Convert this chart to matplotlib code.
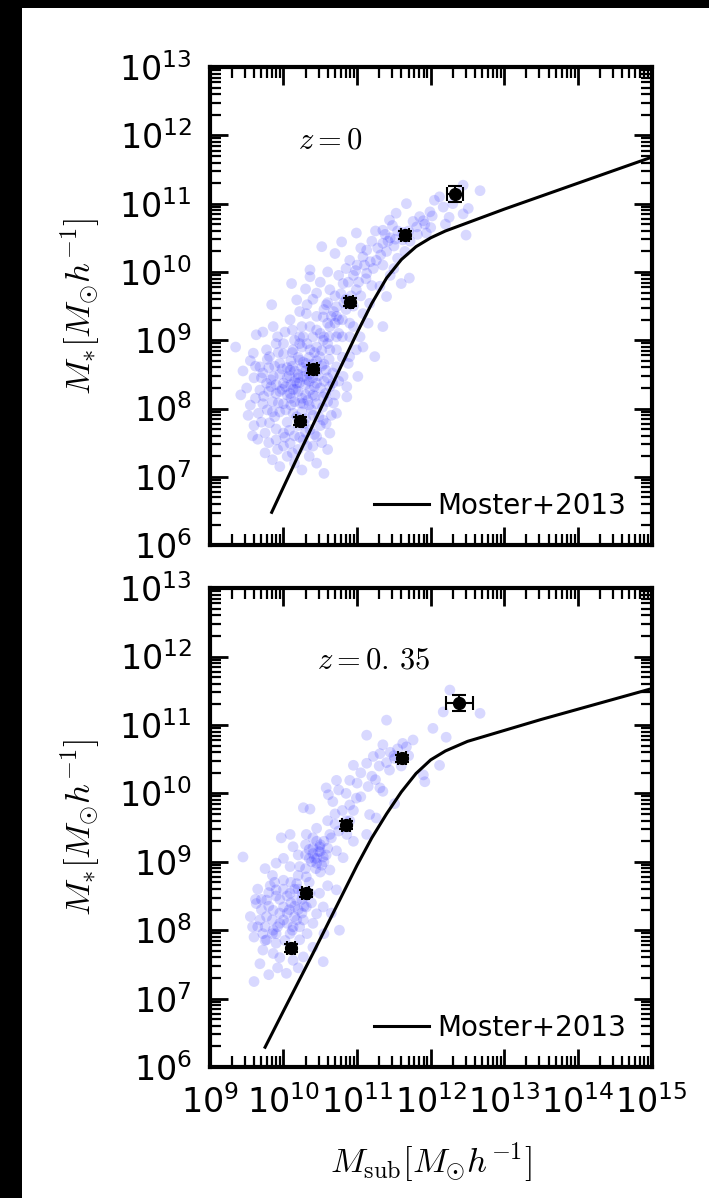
import matplotlib
matplotlib.use('Agg')
import matplotlib.pyplot as plt
from matplotlib.patches import Rectangle
from matplotlib.ticker import LogLocator, NullFormatter
import numpy as np

plt.rcParams['mathtext.fontset'] = 'cm'
plt.rcParams['font.family'] = ['DejaVu Sans']

# all masses as log10 values
# z = 0 panel
top_cloud = [
    (12.44, 11.27), (12.67, 11.19), (12.12, 11.10), (12.05, 11.05), (12.51, 10.93), (12.44, 10.85),
    (12.17, 10.95), (11.99, 10.88), (11.85, 10.81), (11.67, 11.00), (11.76, 10.74), (11.53, 10.86),
    (11.44, 10.76), (11.35, 10.61), (11.81, 10.66), (11.94, 10.57), (11.62, 10.47), (12.48, 10.54),
    (11.35, 10.42), (11.71, 9.91), (11.60, 9.83), (10.99, 10.57), (10.70, 10.27), (10.52, 10.37),
    (10.79, 10.44), (10.90, 10.17), (11.13, 10.32), (11.26, 10.17), (11.35, 10.10), (11.13, 9.98),
    (11.31, 9.79), (11.40, 9.64), (11.35, 9.20), (11.24, 8.76), (11.01, 8.47), (10.86, 8.32),
    (10.88, 8.66), (10.72, 8.86), (10.36, 9.93), (10.36, 10.03), (10.11, 9.83), (10.18, 9.59),
    (10.45, 9.69), (10.63, 9.74), (10.81, 9.83), (10.99, 9.74), (10.72, 9.49), (10.54, 9.34),
    (10.31, 9.39), (9.84, 9.52), (10.09, 9.30), (9.86, 9.20), (9.63, 9.08), (9.72, 9.12),
    (9.35, 8.90), (9.59, 8.81), (9.81, 8.76), (10.00, 8.95), (10.22, 9.05), (10.45, 9.15),
    (10.63, 9.20), (10.90, 9.25), (11.08, 9.39), (11.17, 9.54), (11.04, 9.05),
    (11.45, 10.50), (11.55, 10.60), (11.50, 10.38), (11.40, 10.30), (11.20, 10.45), (11.25, 10.60),
    (11.05, 10.35), (11.00, 10.10), (10.95, 9.95), (10.85, 10.05), (10.75, 9.95), (10.70, 9.65),
    (10.85, 9.60), (10.95, 9.50), (11.05, 9.65), (11.20, 9.80), (11.10, 10.10), (10.80, 9.30),
    (10.60, 9.55), (10.50, 9.85), (10.60, 10.00), (10.40, 9.60), (10.30, 9.75), (10.25, 9.20),
    (10.55, 9.05), (10.75, 9.10), (11.15, 9.25), (11.55, 10.20), (11.65, 10.30), (11.70, 10.60),
    (11.90, 10.75), (12.00, 10.65), (12.25, 10.80), (12.30, 11.00), (12.20, 10.70), (11.45, 9.95),
    (11.50, 10.05),
    (9.68, 8.61), (9.77, 8.37), (9.68, 8.27), (9.72, 8.07), (9.66, 7.93), (9.81, 7.79), (9.75, 7.64),
    (9.90, 7.54), (10.00, 7.64), (10.09, 7.49), (10.27, 7.54), (10.36, 7.69), (10.45, 7.59),
    (10.54, 7.83), (10.63, 7.64), (10.72, 7.93), (10.86, 8.17), (10.67, 8.37), (10.58, 8.56),
    (10.49, 8.76), (10.36, 8.86), (10.22, 8.71), (10.09, 8.56), (10.00, 8.37), (10.09, 8.22),
    (10.18, 8.37), (10.27, 8.47), (10.36, 8.27), (10.45, 8.37), (10.54, 8.17), (10.45, 8.07),
    (10.27, 8.07), (10.13, 7.93), (10.00, 8.07), (9.90, 8.22), (9.86, 8.47), (9.95, 8.66),
    (10.13, 8.86), (10.27, 9.05), (10.31, 8.66), (10.63, 8.86), (10.72, 8.61), (10.81, 8.47),
    (10.90, 8.76), (10.99, 8.86), (11.08, 8.90), (10.72, 9.05), (10.54, 9.00), (10.36, 9.20),
    (9.90, 8.95), (9.77, 8.86),
    (9.75, 7.35), (9.85, 7.25), (9.95, 7.15), (10.05, 7.30), (10.15, 7.20), (10.25, 7.10),
    (10.35, 7.30), (10.45, 7.20), (10.60, 7.40), (9.65, 7.55), (9.60, 7.75), (9.55, 8.05),
    (9.50, 8.30), (9.45, 8.55), (9.60, 8.45), (10.55, 7.05),
    (10.05, 8.45), (10.15, 8.55), (10.25, 8.60), (10.35, 8.50), (10.20, 8.25), (10.30, 8.35),
    (10.40, 8.45), (10.10, 8.35), (10.20, 8.45), (10.30, 8.20), (10.15, 8.10), (10.05, 8.20),
    (10.25, 7.95), (10.35, 8.05), (10.40, 8.65), (10.20, 8.75), (10.10, 8.70), (9.95, 8.50),
    (9.90, 8.35), (9.85, 8.10), (9.95, 7.95), (10.05, 7.80), (10.20, 7.75), (10.30, 7.85),
    (10.40, 7.90), (10.50, 8.30), (10.45, 8.55), (10.55, 8.65), (10.35, 8.75), (10.25, 8.90),
    (10.15, 9.00), (10.45, 8.90), (10.60, 8.45), (10.00, 8.80), (9.80, 8.60), (9.80, 8.25),
    (9.70, 8.45), (9.85, 7.95), (10.00, 7.45), (10.15, 7.60), (10.30, 7.65), (10.20, 7.40),
    (10.40, 7.45), (9.90, 7.70), (10.50, 7.75), (10.10, 8.05), (10.25, 8.15), (10.35, 8.40),
    (10.15, 8.40), (10.05, 8.60), (10.30, 8.55), (10.20, 8.50), (10.10, 8.15), (10.40, 8.20),
    (9.95, 8.25), (10.45, 8.70), (10.55, 8.40), (10.60, 8.10), (10.70, 8.20), (10.65, 7.90),
    (10.75, 8.40), (10.80, 8.75), (10.60, 8.95), (10.50, 9.10), (10.40, 9.05),
    (10.65, 9.35), (10.75, 9.30), (10.85, 9.45), (10.55, 9.45), (10.70, 9.25), (10.80, 9.05),
    (10.90, 9.05), (10.95, 9.20), (10.60, 9.25), (10.45, 9.35),
    (9.72, 8.52), (9.78, 8.72), (9.83, 8.42), (9.88, 8.62), (9.93, 8.82), (9.98, 8.58),
    (10.03, 8.32), (10.08, 8.48), (10.12, 8.62), (10.17, 8.28), (10.22, 8.38), (10.27, 8.68),
    (10.32, 8.42), (10.37, 8.58), (10.42, 8.32), (10.47, 8.48), (10.52, 8.62), (10.57, 8.22),
    (10.62, 8.72), (10.67, 8.52), (9.73, 8.18), (9.78, 7.98), (9.83, 8.32), (9.88, 7.88),
    (9.93, 8.08), (9.98, 8.28), (10.03, 7.98), (10.08, 7.68), (10.13, 8.28), (10.18, 7.88),
    (10.23, 8.08), (10.28, 7.78), (10.33, 8.12), (10.38, 7.98), (10.43, 8.18), (10.48, 7.88),
    (10.53, 8.02), (10.58, 7.78), (10.63, 8.32), (10.68, 8.08), (9.80, 7.50), (9.92, 7.40),
    (10.02, 7.58), (10.12, 7.35), (10.22, 7.58), (10.32, 7.45), (10.42, 7.62), (10.52, 7.50),
    (9.70, 7.80), (9.62, 8.15), (10.12, 8.82), (10.22, 8.95), (10.32, 8.95), (10.42, 8.82),
    (10.52, 8.85), (10.62, 9.05), (10.72, 9.35), (10.82, 9.55), (10.92, 9.65), (11.02, 9.85),
    (11.12, 9.90), (11.22, 10.05), (11.32, 10.25), (11.42, 10.45), (11.52, 10.48), (11.62, 10.58),
    (11.72, 10.45), (11.82, 10.55), (11.92, 10.70), (12.02, 10.82), (10.58, 9.52), (10.68, 9.42),
    (10.78, 9.68), (10.88, 9.85), (10.98, 10.02), (11.08, 10.22), (11.18, 10.15), (11.28, 10.35),
    (11.38, 10.55), (11.48, 10.68), (10.02, 9.12), (10.12, 9.15), (10.32, 9.52), (10.22, 9.42),
    (9.92, 9.05), (9.62, 8.62), (9.55, 8.70), (9.42, 8.20), (9.52, 7.90), (9.58, 7.60),
]
top_logmsub = [10.22, 10.40, 10.90, 11.65, 12.33]
top_logmstar = [7.82, 8.58, 9.56, 10.54, 11.14]
top_xerr = [0.05, 0.05, 0.05, 0.05, 0.11]
top_yerr = [0.055, 0.055, 0.055, 0.055, 0.12]
top_moster_x = [9.84, 10.0, 10.2, 10.4, 10.6, 10.8, 11.0, 11.2, 11.4, 11.6,
                11.8, 12.0, 12.2, 12.5, 13.0, 13.5, 14.0, 14.5, 15.0]
top_moster_y = [6.48, 6.85, 7.31, 7.76, 8.21, 8.66, 9.11, 9.54, 9.91, 10.18,
                10.37, 10.50, 10.60, 10.72, 10.92, 11.11, 11.30, 11.49, 11.68]

# z = 0.35 panel
bot_cloud = [
    (12.26, 11.51), (12.67, 11.17), (12.17, 11.19), (12.03, 10.95), (12.21, 10.82), (12.12, 10.41),
    (11.92, 10.17), (11.90, 10.27), (11.40, 11.07), (11.13, 10.85), (11.76, 10.78), (11.67, 10.68),
    (11.62, 10.73), (11.35, 10.71), (11.31, 10.58), (11.51, 10.51), (11.22, 10.54), (11.44, 10.34),
    (11.35, 10.03), (11.51, 9.85),
    (11.13, 10.44), (10.95, 10.41), (10.90, 10.19), (10.72, 10.19), (10.61, 9.98), (10.58, 10.08),
    (10.67, 9.88), (10.90, 9.83), (10.99, 9.93), (11.17, 9.69), (11.31, 10.08), (11.26, 9.64),
    (11.13, 9.40), (10.95, 9.30), (10.72, 9.16), (10.81, 9.06), (10.86, 9.40), (10.63, 9.40),
    (10.45, 9.49), (10.31, 9.40), (10.27, 9.79), (10.36, 9.77), (10.09, 9.40), (9.97, 9.35),
    (10.13, 9.22), (10.49, 9.22), (10.40, 9.12), (10.54, 9.07), (10.45, 8.98), (10.63, 8.88),
    (10.72, 8.59), (10.76, 8.00), (10.54, 7.54), (10.04, 7.37), (9.68, 7.51), (9.45, 9.07),
    (9.75, 8.90), (9.90, 8.98), (10.09, 8.93), (10.22, 8.93), (10.31, 8.78),
    (9.68, 8.15), (9.63, 8.39), (9.77, 8.44), (9.90, 8.59), (10.00, 8.73), (10.09, 8.54),
    (10.18, 8.44), (10.31, 8.34), (10.45, 8.24), (10.40, 8.10), (10.27, 8.15), (10.13, 8.05),
    (10.00, 8.15), (9.86, 8.00), (9.77, 7.86), (9.90, 7.81), (9.72, 7.71), (9.86, 7.66),
    (10.09, 7.95), (10.22, 7.86), (10.00, 8.34), (9.86, 8.29), (10.18, 8.68), (10.36, 8.54),
    (10.49, 8.54), (10.54, 8.34), (10.13, 7.56), (10.27, 7.61), (9.77, 8.20),
    (10.42, 9.05), (10.48, 9.15), (10.52, 8.95), (10.38, 9.00), (10.50, 9.25), (10.44, 8.90),
    (10.58, 9.10), (10.35, 9.18), (10.55, 9.30),
    (10.10, 8.40), (10.20, 8.30), (10.15, 8.20), (10.25, 8.45), (10.05, 8.50), (9.95, 8.45),
    (10.05, 8.25), (9.95, 8.10), (10.15, 8.60), (10.25, 8.25), (9.80, 8.55), (9.70, 8.30),
    (9.85, 8.15), (10.30, 8.50), (10.20, 8.60), (9.90, 7.95), (9.75, 8.05), (10.10, 7.75),
    (9.95, 7.60), (9.60, 7.90), (9.55, 8.20), (9.65, 8.60), (9.85, 8.80), (10.00, 9.05),
    (10.20, 9.10), (10.30, 9.25), (10.40, 9.35), (10.60, 9.60), (10.70, 9.70), (10.80, 9.75),
    (10.85, 10.00), (10.75, 10.05), (11.00, 10.15), (11.05, 10.30), (11.20, 10.25), (11.30, 10.40),
    (11.45, 10.60), (11.55, 10.65), (11.70, 10.55), (11.60, 10.40), (10.20, 7.45), (9.80, 7.35),
    (9.60, 7.25), (10.40, 7.75), (10.55, 7.95), (10.65, 8.25), (10.60, 8.65),
    (9.70, 8.45), (9.80, 8.35), (9.90, 8.50), (10.00, 8.60), (10.10, 8.70), (10.20, 8.80),
    (10.30, 8.90), (10.35, 8.70), (10.25, 8.55), (10.15, 8.35), (10.05, 8.10), (9.95, 8.25),
    (9.85, 7.95), (9.75, 7.85), (9.65, 8.05), (10.08, 8.30), (10.18, 8.15), (10.28, 8.35),
    (10.38, 8.40), (9.88, 8.70), (10.45, 9.05), (10.50, 9.15), (10.40, 9.20), (10.55, 9.00),
    (10.60, 9.20), (10.35, 9.05), (10.45, 9.30), (10.65, 9.35), (10.30, 9.10), (10.50, 8.85),
    (10.75, 9.45), (10.85, 9.60), (10.95, 9.75), (11.05, 9.95), (11.15, 10.10), (11.25, 10.20),
    (11.40, 10.45), (11.50, 10.55), (10.90, 9.60), (10.70, 9.55), (9.92, 8.05), (10.02, 7.85),
    (10.12, 8.00), (9.72, 7.95), (9.82, 8.65), (10.22, 8.05), (9.62, 8.45), (9.58, 8.05),
    (9.92, 7.45), (10.32, 7.95),
]
bot_logmsub = [10.10, 10.30, 10.85, 11.61, 12.39]
bot_logmstar = [7.74, 8.54, 9.54, 10.51, 11.32]
bot_xerr = [0.05, 0.05, 0.05, 0.05, 0.18]
bot_yerr = [0.055, 0.055, 0.055, 0.055, 0.12]
bot_moster_x = [9.75, 10.0, 10.2, 10.4, 10.6, 10.8, 11.0, 11.2, 11.4, 11.6,
                11.8, 12.0, 12.2, 12.5, 13.0, 13.5, 14.0, 14.5, 15.0]
bot_moster_y = [6.29, 6.82, 7.24, 7.66, 8.09, 8.52, 8.95, 9.35, 9.70, 10.02,
                10.29, 10.49, 10.62, 10.76, 10.92, 11.08, 11.23, 11.38, 11.53]

panels = [
    (top_cloud, top_logmsub, top_logmstar, top_xerr, top_yerr, top_moster_x, top_moster_y,
     r'$z=0$', (0.20, 0.847)),
    (bot_cloud, bot_logmsub, bot_logmstar, bot_xerr, bot_yerr, bot_moster_x, bot_moster_y,
     r'$z=0.\,35$', (0.242, 0.85)),
]

fig = plt.figure(figsize=(7.09, 11.98), dpi=100, facecolor='black')
fig.add_artist(Rectangle((22 / 709., 0), 1, 1 - 8 / 1198., transform=fig.transFigure,
                         facecolor='white', edgecolor='none', zorder=-10))

rects = [[0.296, 0.545, 0.623, 0.399], [0.296, 0.1093, 0.623, 0.3998]]

for i, (cloud, lx, ly, ex, ey, mx, my, ztxt, zpos) in enumerate(panels):
    ax = fig.add_axes(rects[i])
    cx = 10 ** np.array([c[0] for c in cloud])
    cy = 10 ** np.array([c[1] for c in cloud])
    ax.scatter(cx, cy, s=60, color='#1a1aff', alpha=0.17, edgecolors='none')

    ax.plot(10 ** np.array(mx), 10 ** np.array(my), color='black', lw=2.2, label='Moster+2013')

    lx = np.array(lx)
    ly = np.array(ly)
    ex = np.array(ex)
    ey = np.array(ey)
    x = 10 ** lx
    y = 10 ** ly
    xerr = [x - 10 ** (lx - ex), 10 ** (lx + ex) - x]
    yerr = [y - 10 ** (ly - ey), 10 ** (ly + ey) - y]
    ax.errorbar(x, y, xerr=xerr, yerr=yerr, fmt='o', color='black', ms=8.5,
                elinewidth=1.5, capsize=5, capthick=1.5, zorder=5)

    ax.set_xscale('log')
    ax.set_yscale('log')
    ax.set_xlim(1e9, 1e15)
    ax.set_ylim(1e6, 1e13)
    for axis in (ax.xaxis, ax.yaxis):
        axis.set_major_locator(LogLocator(base=10, numticks=20))
        axis.set_minor_locator(LogLocator(base=10, subs=np.arange(2, 10), numticks=200))
        axis.set_minor_formatter(NullFormatter())

    ax.text(zpos[0], zpos[1], ztxt, transform=ax.transAxes, fontsize=22, va='center')
    ax.legend(loc='lower right', frameon=False, fontsize=20, handlelength=2.0,
              handletextpad=0.3)

    for sp in ax.spines.values():
        sp.set_linewidth(3)
    ax.tick_params(which='major', direction='in', length=13, width=2.0,
                   top=True, right=True, labelsize=24, pad=13)
    ax.tick_params(which='minor', direction='in', length=8, width=1.6,
                   top=True, right=True)
    ax.set_ylabel(r'$M_{*}[M_{\odot}h^{-1}]$', fontsize=25, labelpad=12)
    if i == 0:
        ax.tick_params(labelbottom=False)
    else:
        ax.set_xlabel(r'$M_{\rm sub}[M_{\odot}h^{-1}]$', fontsize=25, labelpad=15)

fig.savefig('out.png', dpi=100, facecolor=fig.get_facecolor())
